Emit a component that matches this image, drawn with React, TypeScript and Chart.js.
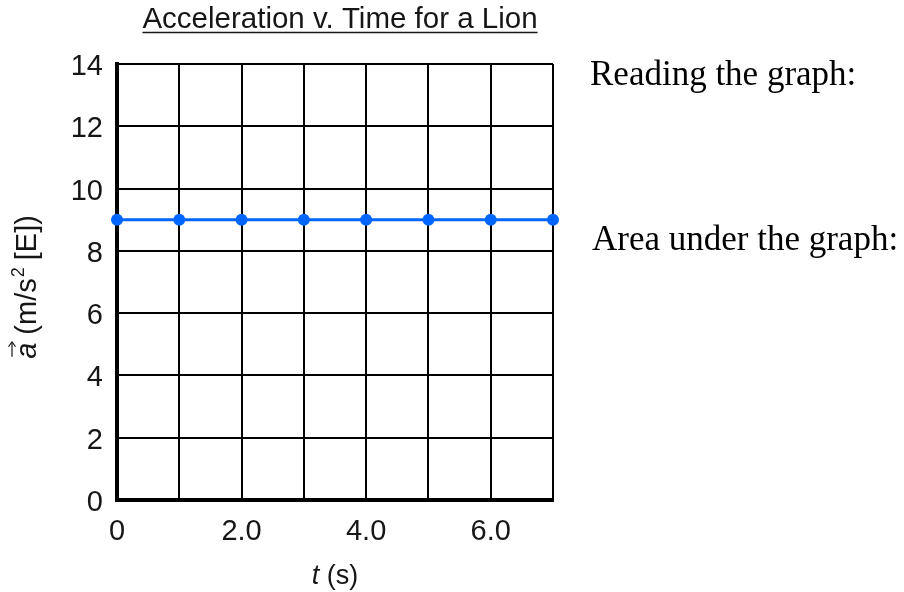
import React, { useEffect, useRef } from 'react';
import { Chart, registerables } from 'chart.js';

Chart.register(...registerables);

const timeValues = [0, 1, 2, 3, 4, 5, 6, 7];
const accelValues = [9, 9, 9, 9, 9, 9, 9, 9];
const xTickLabels = ['0', '', '2.0', '', '4.0', '', '6.0', ''];
const yTickLabels = ['0', '2', '4', '6', '8', '10', '12', '14'];
const chartTitle = 'Acceleration v. Time for a Lion';
const noteTexts = ['Reading the graph:', 'Area under the graph:'];

const SANS = '"Liberation Sans", Arial, Helvetica, sans-serif';
const SERIF = '"Liberation Serif", "Times New Roman", serif';
const BLUE = '#0066ff';
const TEXT = '#161616';

const textPlugin = {
  id: 'customTexts',
  afterDraw(chart: any) {
    const ctx = chart.ctx as CanvasRenderingContext2D;
    const ca = chart.chartArea;
    const cx = (ca.left + ca.right) / 2;
    ctx.save();
    ctx.fillStyle = TEXT;
    ctx.strokeStyle = TEXT;

    // Title with underline
    ctx.font = `29.5px ${SANS}`;
    ctx.textAlign = 'center';
    ctx.textBaseline = 'alphabetic';
    const tW = ctx.measureText(chartTitle).width;
    const tX = cx + 5;
    ctx.fillText(chartTitle, tX, 28);
    ctx.lineWidth = 1.5;
    ctx.beginPath();
    ctx.moveTo(tX - tW / 2, 32.5);
    ctx.lineTo(tX + tW / 2, 32.5);
    ctx.stroke();

    // X axis title: italic t + " (s)"
    ctx.textAlign = 'left';
    ctx.font = `italic 27px ${SANS}`;
    const tPart = 't';
    const w1 = ctx.measureText(tPart).width;
    ctx.font = `27px ${SANS}`;
    const rest = ' (s)';
    const w2 = ctx.measureText(rest).width;
    const sx = cx - (w1 + w2) / 2;
    ctx.font = `italic 27px ${SANS}`;
    ctx.fillText(tPart, sx, 584);
    ctx.font = `27px ${SANS}`;
    ctx.fillText(rest, sx + w1, 584);

    // Y axis title: vector a (m/s^2 [E])
    const fs = 29;
    ctx.save();
    ctx.translate(26, (ca.top + ca.bottom) / 2 + 5);
    ctx.rotate(-Math.PI / 2);
    const base = 10;
    ctx.font = `italic ${fs}px ${SANS}`;
    const aW = ctx.measureText('a').width;
    ctx.font = `${fs}px ${SANS}`;
    const p1 = ' (m/s';
    const p1W = ctx.measureText(p1).width;
    ctx.font = `${Math.round(fs * 0.62)}px ${SANS}`;
    const supW = ctx.measureText('2').width;
    ctx.font = `${fs}px ${SANS}`;
    const p2 = ' [E])';
    const p2W = ctx.measureText(p2).width;
    const total = aW + p1W + supW + p2W;
    let x0 = -total / 2;
    ctx.font = `italic ${fs}px ${SANS}`;
    ctx.fillText('a', x0, base);
    // vector arrow
    const ay = base - 24;
    ctx.lineWidth = 1.2;
    ctx.beginPath();
    ctx.moveTo(x0 + 2, ay);
    ctx.lineTo(x0 + aW + 1, ay);
    ctx.stroke();
    ctx.beginPath();
    ctx.moveTo(x0 + aW + 1, ay);
    ctx.lineTo(x0 + aW - 4, ay - 3.5);
    ctx.moveTo(x0 + aW + 1, ay);
    ctx.lineTo(x0 + aW - 4, ay + 3.5);
    ctx.stroke();
    x0 += aW;
    ctx.font = `${fs}px ${SANS}`;
    ctx.fillText(p1, x0, base);
    x0 += p1W;
    ctx.font = `${Math.round(fs * 0.62)}px ${SANS}`;
    ctx.fillText('2', x0 + 1, base - 12);
    x0 += supW;
    ctx.font = `${fs}px ${SANS}`;
    ctx.fillText(p2, x0, base);
    ctx.restore();

    // Notes on the right
    ctx.fillStyle = '#000';
    ctx.font = `35px ${SERIF}`;
    ctx.textAlign = 'left';
    ctx.fillText(noteTexts[0], ca.right + 37, ca.top + 21);
    ctx.fillText(noteTexts[1], ca.right + 39, ca.top + 186);
    ctx.restore();
  },
};

export default function App() {
  const canvasRef = useRef<HTMLCanvasElement | null>(null);

  useEffect(() => {
    if (!canvasRef.current) return;
    const chart = new Chart(canvasRef.current, {
      type: 'line',
      data: {
        datasets: [
          {
            data: timeValues.map((t, i) => ({ x: t, y: accelValues[i] })),
            borderColor: BLUE,
            backgroundColor: BLUE,
            borderWidth: 3,
            pointRadius: 6,
            pointHoverRadius: 6,
            pointBackgroundColor: BLUE,
            pointBorderWidth: 0,
            fill: false,
            tension: 0,
            clip: false as any,
          },
        ],
      },
      options: {
        animation: false,
        responsive: false,
        maintainAspectRatio: false,
        layout: { padding: { top: 64, right: 351, bottom: 0, left: 0 } },
        plugins: {
          legend: { display: false },
          title: { display: false },
          tooltip: { enabled: false },
        },
        scales: {
          x: {
            type: 'linear',
            min: 0,
            max: 7,
            afterFit: (scale: any) => {
              scale.height = 92;
            },
            ticks: {
              stepSize: 1,
              autoSkip: false,
              maxRotation: 0,
              padding: 15,
              color: TEXT,
              font: { family: SANS, size: 29 },
              callback: (v: any) => xTickLabels[Math.round(Number(v))] ?? '',
            },
            grid: { color: '#000', lineWidth: 2, drawTicks: false },
            border: { display: true, color: '#000', width: 4 },
          },
          y: {
            type: 'linear',
            min: 0,
            max: 14,
            afterFit: (scale: any) => {
              scale.width = 117;
            },
            ticks: {
              stepSize: 2,
              padding: 14,
              labelOffset: 3,
              color: TEXT,
              font: { family: SANS, size: 29 },
              callback: (v: any) => yTickLabels[Math.round(Number(v) / 2)] ?? '',
            },
            grid: { color: '#000', lineWidth: 2, drawTicks: false },
            border: { display: true, color: '#000', width: 4 },
          },
        },
      },
      plugins: [textPlugin],
    });
    return () => chart.destroy();
  }, []);

  return (
    <div style={{ position: 'absolute', left: 0, top: 0, width: 904, height: 592, background: '#fff' }}>
      <canvas ref={canvasRef} width={904} height={592} style={{ display: 'block' }} />
    </div>
  );
}
